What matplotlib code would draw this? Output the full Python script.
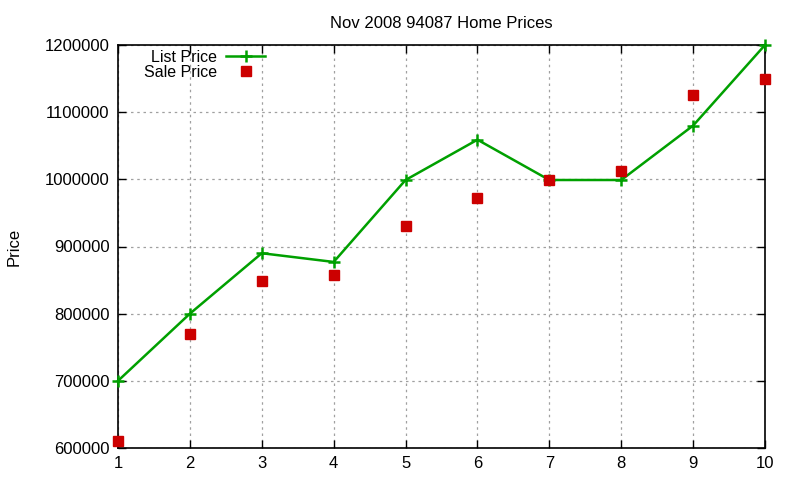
import numpy as np
import matplotlib
matplotlib.use("Agg")
import matplotlib.pyplot as plt

plt.rcParams['font.family'] = ['Liberation Sans', 'DejaVu Sans']
plt.rcParams['font.size'] = 12

homes = [1, 2, 3, 4, 5, 6, 7, 8, 9, 10]
list_price = [700000, 800000, 890000, 877000, 999000, 1059000, 999000, 999000, 1080000, 1200000]
sale_price = [611000, 769000, 848000, 858000, 930000, 972000, 999000, 1012000, 1126000, 1149000]

fig = plt.figure(figsize=(8, 4.8), dpi=100)
ax = fig.add_axes([118/800, 1 - 448/480, (765-118)/800, (448-45)/480])

ax.plot(homes, list_price, color='#00a000', lw=1.8, marker='+', ms=9, mew=1.8,
        label='List Price', clip_on=False, zorder=3)
ax.plot(homes, sale_price, ls='none', color='#cc0000', marker='s', ms=6.5,
        label='Sale Price', clip_on=False, zorder=3)

ax.set_xlim(1, 10)
ax.set_ylim(600000, 1200000)
ax.set_xticks(homes)
ax.set_yticks(np.arange(600000, 1200001, 100000))
ax.ticklabel_format(axis='y', style='plain', useOffset=False)
ax.tick_params(direction='in', top=True, right=True, length=6, width=1)
ax.tick_params(axis='y', pad=6)
ax.tick_params(axis='x', pad=6)
ax.grid(True, color='#a0a0a0', ls=(0, (2, 3)), lw=0.9)
for s in ax.spines.values():
    s.set_linewidth(1.2)

ax.set_title('Nov 2008 94087 Home Prices', fontsize=12, pad=12)
ax.set_ylabel('Price')
ax.yaxis.set_label_coords(-96/647, 0.5)

ax.legend(loc='upper left', markerfirst=False, frameon=False, bbox_to_anchor=(0.02, 1.02),
          handlelength=2.4, labelspacing=0.0, borderpad=0.3, handletextpad=0.6, fontsize=11.5)

fig.savefig('out.png', dpi=100)
